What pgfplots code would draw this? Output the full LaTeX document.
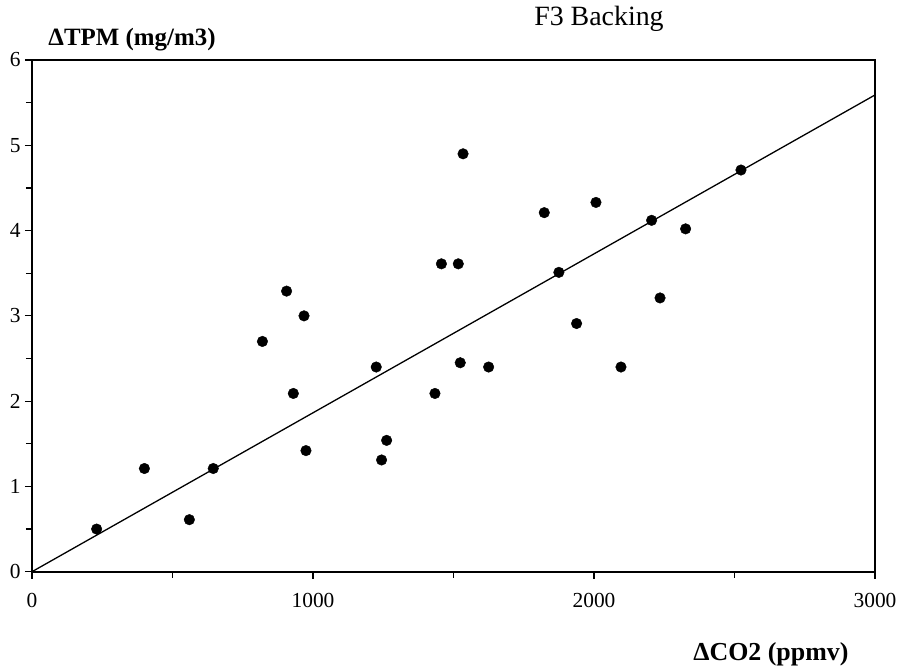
\documentclass[border=0pt]{standalone}
\usepackage{fontspec}
\setmainfont{Liberation Serif}
\usepackage{pgfplots}
\pgfplotsset{compat=1.18}
\begin{document}
\begin{tikzpicture}
\path[use as bounding box] (-32bp,-96.3bp) rectangle (875bp,571.7bp);
\begin{axis}[
  at={(0,0)}, anchor=south west,
  scale only axis, width=843bp, height=511.7bp,
  xmin=0, xmax=3000, ymin=0, ymax=6,
  xtick={0,1000,2000,3000}, minor xtick={500,1500,2500},
  ytick={0,1,2,3,4,5,6}, minor ytick={0.5,1.5,2.5,3.5,4.5,5.5},
  tick pos=left, tick align=outside,
  major tick length=7bp, minor tick length=6bp,
  every tick/.style={black, line width=1.2bp},
  axis line style={line width=1.6bp},
  /pgf/number format/assume math mode=true,
  /pgf/number format/1000 sep={},
  ticklabel style={font=\fontsize{21.5}{25}\selectfont},
  xticklabel style={yshift=-11bp},
  yticklabel style={xshift=-1bp},
  clip=false,
]
\addplot[black, line width=1.3bp] coordinates {(0,0) (3000,5.59)};
\addplot[only marks, mark=*, mark size=5.3bp, black] coordinates {
(230,0.50) (400,1.21) (560,0.61) (645,1.21) (975,1.42) (1244,1.31) (1262,1.54)
(1534,4.90) (1823,4.21) (1457,3.61) (1517,3.61) (906,3.29) (968,3.00) (820,2.70)
(1225,2.40) (1524,2.45) (1625,2.40) (930,2.09) (1434,2.09) (2007,4.33) (2205,4.12)
(2326,4.02) (1875,3.51) (2523,4.71) (2235,3.21) (1938,2.91) (2096,2.40)
};
\node[anchor=base, font=\fontsize{28}{32}\selectfont] at (axis description cs:0.6726,1.0684) {F3 Backing};
\node[anchor=base west, font=\fontsize{25}{29}\selectfont\bfseries] at (axis description cs:0.0154,1.0274) {ΔTPM (mg/m3)};
\node[anchor=base east, font=\fontsize{26}{30}\selectfont\bfseries] at (axis description cs:0.9727,-0.1726) {ΔCO2 (ppmv)};
\end{axis}
\end{tikzpicture}
\end{document}
